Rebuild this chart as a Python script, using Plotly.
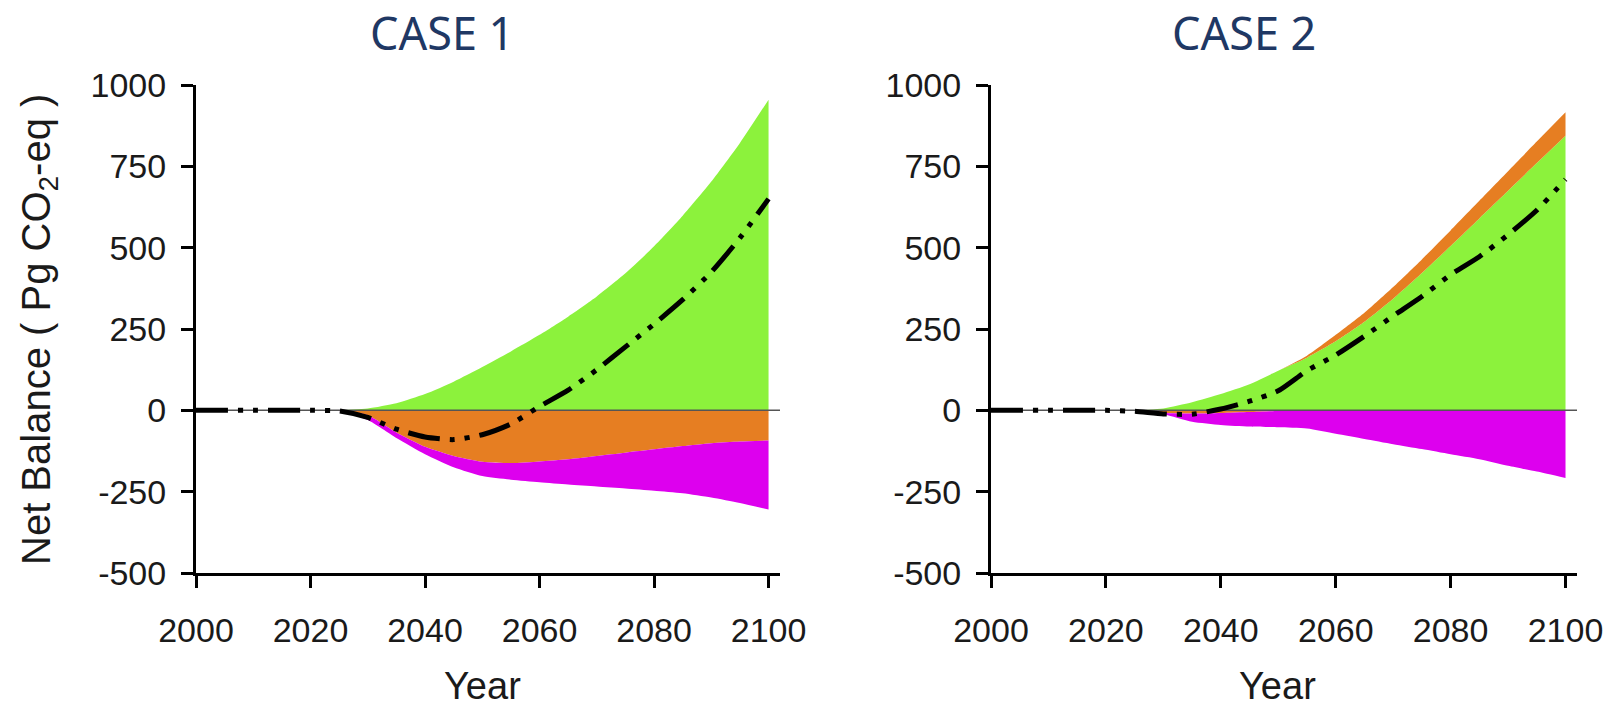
import plotly.graph_objects as go

# ---------------------------------------------------------------
# Net CO2-eq balance projections, two cases (Pg CO2-eq)
# ---------------------------------------------------------------
years = list(range(2000, 2101, 5))

# Case 1 components
c1_green = [0, 0, 0, 0, 0, 1, 6, 22, 50, 88, 133, 181, 232, 288, 350, 421, 504, 598, 703, 822, 955]
c1_orange = [0, 0, 0, 0, 0, 0, -15, -68, -112, -140, -158, -162, -157, -150, -140, -130, -120, -110, -101, -96, -93]
c1_magenta = [0, 0, 0, 0, 0, -2, -15, -17, -23, -35, -44, -51, -64, -78, -94, -110, -127, -145, -167, -189, -212]
c1_net = [0, 0, 0, 0, 0, -2, -22, -58, -82, -90, -75, -42, 12, 62, 125, 195, 265, 340, 425, 530, 650]

# Case 2 components
c2_green = [0, 0, 0, 0, 0, 0, 6, 25, 50, 80, 122, 162, 212, 272, 343, 422, 505, 590, 675, 760, 844]
c2_orange = [0, 0, 0, 0, 0, 0, -8, -10, -8, -5, -2, 6, 20, 28, 36, 42, 48, 54, 60, 66, 72]
c2_magenta = [0, 0, 0, 0, 0, -2, -4, -25, -37, -45, -50, -56, -72, -88, -104, -119, -135, -150, -170, -188, -208]
c2_net = [0, 0, 0, 0, 0, -3, -11, -12, 4, 28, 60, 122, 170, 228, 290, 350, 417, 472, 540, 615, 710]

titles = ["CASE 1", "CASE 2"]
x_ticks = [2000, 2020, 2040, 2060, 2080, 2100]
y_ticks = [-500, -250, 0, 250, 500, 750, 1000]
y_ticktext = ["-500", "-250", "0", "250", "500", "750", "1000"]
x_range = [2000, 2102]
y_range = [-500, 1000]

GREEN = "#8CF23C"
ORANGE = "#E67E22"
MAGENTA = "#DD00EE"
TITLE_BLUE = "#1F3864"

fig = go.Figure()

cases = [
    (c1_green, c1_orange, c1_magenta, c1_net, "x", "y"),
    (c2_green, c2_orange, c2_magenta, c2_net, "x2", "y2"),
]

for green, orange, magenta, net, xa, ya in cases:
    orange_pos = [max(v, 0) for v in orange]
    orange_neg = [min(v, 0) for v in orange]
    common = dict(x=years, mode="lines", line=dict(width=0, shape="spline", smoothing=0.6),
                  xaxis=xa, yaxis=ya, showlegend=False, hoverinfo="skip")
    # negative side: orange then magenta below it
    fig.add_trace(go.Scatter(y=orange_neg, stackgroup="neg" + xa, fillcolor=ORANGE, **common))
    fig.add_trace(go.Scatter(y=magenta, stackgroup="neg" + xa, fillcolor=MAGENTA, **common))
    # positive side: green then orange on top
    fig.add_trace(go.Scatter(y=green, stackgroup="pos" + xa, fillcolor=GREEN, **common))
    fig.add_trace(go.Scatter(y=orange_pos, stackgroup="pos" + xa, fillcolor=ORANGE, **common))
    # zero reference line across the axis
    fig.add_trace(go.Scatter(x=x_range, y=[0, 0], mode="lines",
                             line=dict(color="#555555", width=1.5),
                             xaxis=xa, yaxis=ya, showlegend=False, hoverinfo="skip"))
    # net balance
    fig.add_trace(go.Scatter(x=years, y=net, mode="lines",
                             line=dict(color="black", width=5, shape="spline", smoothing=0.6,
                                       dash="32px,10px,5px,10px,5px,10px"),
                             xaxis=xa, yaxis=ya, showlegend=False, hoverinfo="skip"))

W, H = 1615, 707
tick_font = dict(family="Liberation Sans, Arial, sans-serif", size=34, color="#1a1a1a")

x_common = dict(range=x_range, tickvals=x_ticks, showline=True, linecolor="black", linewidth=3,
                ticks="outside", ticklen=12, tickwidth=3, tickcolor="black", showgrid=False,
                zeroline=False, tickfont=tick_font, ticklabelstandoff=13, fixedrange=True,
                automargin=False)
y_common = dict(range=y_range, tickvals=y_ticks, ticktext=y_ticktext, showline=True,
                linecolor="black", linewidth=3, ticks="outside", ticklen=12, tickwidth=3,
                tickcolor="black", showgrid=False, zeroline=False, tickfont=tick_font,
                ticklabelstandoff=8, fixedrange=True, automargin=False)

y_dom = [1 - 573 / H, 1 - 85 / H]

fig.update_layout(
    width=W, height=H, autosize=False,
    margin=dict(l=0, r=0, t=0, b=0, autoexpand=False),
    paper_bgcolor="white", plot_bgcolor="white",
    xaxis=dict(domain=[196 / W, 780 / W], anchor="y", **x_common),
    yaxis=dict(domain=y_dom, anchor="x", **y_common),
    xaxis2=dict(domain=[991 / W, 1577 / W], anchor="y2", **x_common),
    yaxis2=dict(domain=y_dom, anchor="x2", **y_common),
)

label_font = dict(family="Liberation Sans, Arial, sans-serif", color="#1a1a1a")
title_font = dict(family="Noto Sans, Open Sans, sans-serif", size=45, color=TITLE_BLUE)
annotations = [
    dict(text=titles[0], x=442 / W, y=1, xref="paper", yref="paper", showarrow=False,
         xanchor="center", yanchor="top", font=title_font),
    dict(text=titles[1], x=1244 / W, y=1, xref="paper", yref="paper", showarrow=False,
         xanchor="center", yanchor="top", font=title_font),
    dict(text="Year", x=482 / W, y=1 - 686 / H, xref="paper", yref="paper", showarrow=False,
         xanchor="center", yanchor="middle", font=dict(size=38, **label_font)),
    dict(text="Year", x=1277 / W, y=1 - 686 / H, xref="paper", yref="paper", showarrow=False,
         xanchor="center", yanchor="middle", font=dict(size=38, **label_font)),
    dict(text="Net Balance ( Pg CO<sub>2</sub>-eq )", x=39 / W, y=1 - 330 / H, xref="paper",
         yref="paper", showarrow=False, textangle=-90, xanchor="center", yanchor="middle",
         font=dict(size=40, **label_font)),
]
fig.update_layout(annotations=annotations)

fig.write_html("out.html")
